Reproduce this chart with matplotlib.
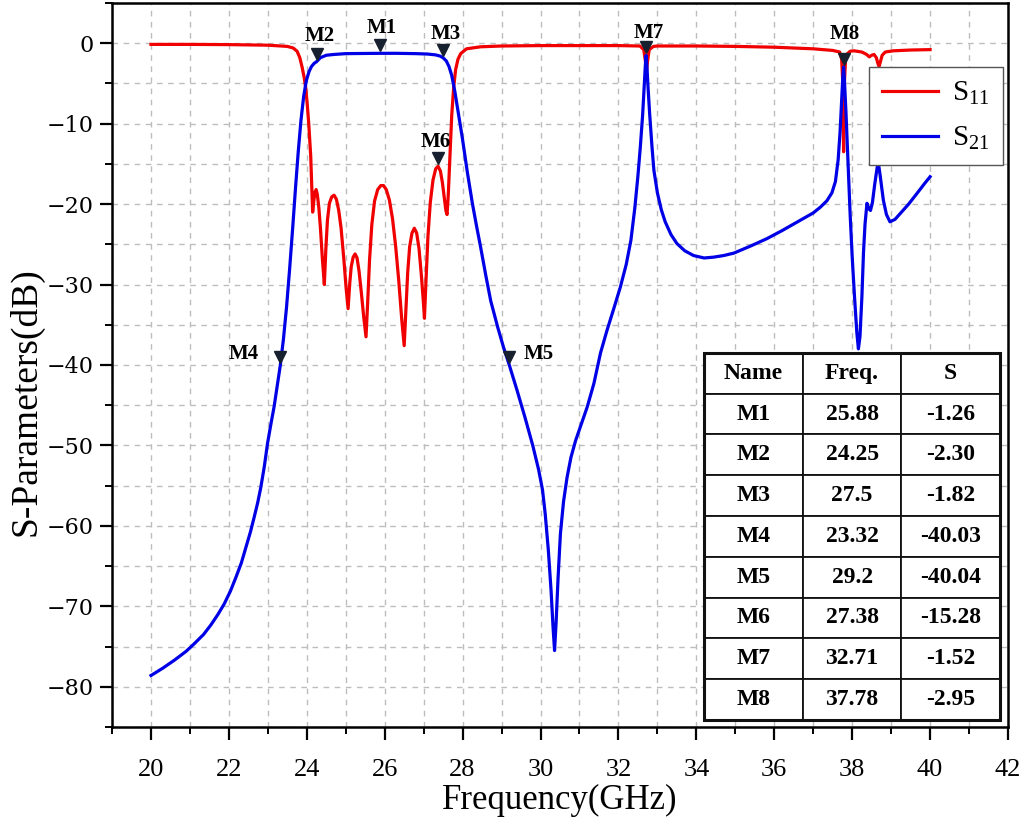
import matplotlib
matplotlib.use("Agg")
import matplotlib.pyplot as plt
from matplotlib.ticker import MultipleLocator
from matplotlib.transforms import offset_copy
from matplotlib.patches import Rectangle

plt.rcParams['font.family'] = 'serif'
plt.rcParams['font.serif'] = ['Liberation Serif', 'DejaVu Serif']
plt.rcParams['mathtext.fontset'] = 'custom'
plt.rcParams['mathtext.rm'] = 'Liberation Serif'
plt.rcParams['mathtext.it'] = 'Liberation Serif:italic'

# S11
s11_freq = [20.0, 21.0, 22.0, 23.0, 23.5, 23.65, 23.75, 23.82, 23.88, 23.93, 23.97, 24.01, 24.05,
            24.10, 24.13, 24.15, 24.18, 24.21, 24.24, 24.27, 24.31, 24.35, 24.40, 24.45, 24.49,
            24.53, 24.58, 24.64, 24.70, 24.76, 24.82, 24.88, 24.95, 25.01, 25.06, 25.10, 25.14,
            25.19, 25.24, 25.29, 25.34, 25.40, 25.46, 25.52, 25.56, 25.61, 25.67, 25.74, 25.82,
            25.90, 25.97, 26.04, 26.12, 26.20, 26.28, 26.36, 26.44, 26.50, 26.54, 26.59, 26.64,
            26.70, 26.76, 26.82, 26.88, 26.94, 26.99, 27.02, 27.06, 27.11, 27.17, 27.24, 27.31,
            27.37, 27.43, 27.48, 27.53, 27.57, 27.60, 27.63, 27.67, 27.72, 27.77, 27.82, 27.88,
            27.95, 28.10, 28.46, 29.0, 30.0, 31.0, 32.0, 32.55, 32.65, 32.70, 32.72, 32.74,
            32.79, 32.9, 33.0, 34.0, 35.0, 36.0, 37.0, 37.5, 37.68, 37.73, 37.76, 37.78, 37.80,
            37.83, 37.88, 37.95, 38.05, 38.25, 38.37, 38.44, 38.50, 38.56, 38.62, 38.66, 38.69,
            38.72, 38.77, 38.85, 39.05, 39.5, 40.0]
s11_db = [-0.15, -0.15, -0.18, -0.25, -0.4, -0.6, -1.0, -1.8, -3.0, -4.2, -5.5, -7.5, -10.0,
          -14.0, -18.0, -21.0, -19.6, -18.5, -18.2, -18.8, -20.5, -23.0, -26.8, -30.0, -25.5,
          -22.0, -19.9, -19.1, -18.9, -19.4, -20.8, -23.0, -26.8, -30.5, -33.0, -30.0, -27.8,
          -26.6, -26.2, -26.7, -28.3, -31.0, -34.0, -36.5, -32.5, -27.0, -22.5, -19.6, -18.2,
          -17.7, -17.7, -18.2, -19.5, -21.8, -25.2, -29.5, -34.5, -37.6, -33.5, -28.5, -25.3,
          -23.6, -23.0, -23.6, -25.5, -28.8, -32.0, -34.2, -29.5, -24.0, -19.8, -17.0, -15.6,
          -15.3, -15.9, -17.3, -19.3, -20.8, -21.3, -19.0, -14.5, -9.0, -5.5, -3.3, -2.0,
          -1.3, -0.7, -0.45, -0.35, -0.3, -0.3, -0.3, -0.35, -0.8, -2.5, -3.5, -2.5,
          -0.8, -0.4, -0.35, -0.35, -0.4, -0.5, -0.7, -0.9, -1.1, -2.0, -5.0, -13.5, -5.0,
          -2.0, -1.3, -1.0, -0.95, -1.1, -1.4, -1.7, -1.5, -1.4, -1.8, -2.5, -2.9,
          -2.4, -1.5, -1.1, -0.95, -0.85, -0.8]

# S21
s21_freq = [20.0, 20.3, 20.6, 20.9, 21.1, 21.35, 21.54, 21.72, 21.88, 22.04, 22.18, 22.32, 22.44,
            22.55, 22.65, 22.74, 22.82, 22.91, 22.99, 23.08, 23.16, 23.24, 23.32, 23.40, 23.48,
            23.56, 23.64, 23.71, 23.78, 23.85, 23.92, 23.99, 24.06, 24.12, 24.19, 24.25, 24.35,
            24.5, 24.7, 25.0, 25.5, 25.88, 26.3, 26.8, 27.1, 27.3, 27.42, 27.50, 27.58, 27.65,
            27.72, 27.80, 27.89, 27.99, 28.12, 28.25, 28.36, 28.46, 28.60, 28.72, 28.90, 29.05,
            29.20, 29.40, 29.60, 29.80, 29.95, 30.05, 30.12, 30.20, 30.27, 30.32, 30.36, 30.40,
            30.45, 30.51, 30.59, 30.68, 30.78, 30.90, 31.05, 31.20, 31.37, 31.54, 31.70, 31.88,
            32.05, 32.20, 32.32, 32.42, 32.50, 32.56, 32.62, 32.66, 32.69, 32.71, 32.73, 32.76,
            32.80, 32.86, 32.91, 33.0, 33.1, 33.2, 33.35, 33.5, 33.7, 33.93, 34.2, 34.44, 34.7,
            34.96, 35.4, 35.81, 36.2, 36.67, 37.0, 37.18, 37.35, 37.48, 37.57, 37.64, 37.69,
            37.73, 37.76, 37.78, 37.80, 37.84, 37.89, 37.95, 38.00, 38.06, 38.12, 38.16, 38.20,
            38.25, 38.29, 38.33, 38.38, 38.43, 38.47, 38.52, 38.58, 38.64, 38.67, 38.72, 38.80,
            38.88, 38.97, 39.1, 39.23, 39.45, 39.66, 39.85, 40.0]
s21_db = [-78.6, -77.7, -76.7, -75.6, -74.7, -73.5, -72.3, -71.0, -69.7, -68.1, -66.4, -64.6, -62.6,
          -60.8, -58.9, -57.1, -55.2, -52.6, -49.8, -47.3, -45.2, -42.6, -40.03, -36.8, -32.8,
          -28.0, -22.8, -18.0, -13.5, -9.6, -6.6, -4.6, -3.5, -2.9, -2.5, -2.30, -1.8,
          -1.5, -1.4, -1.3, -1.27, -1.26, -1.26, -1.3, -1.35, -1.45, -1.6, -1.82, -2.2, -2.9,
          -4.0, -6.0, -8.7, -11.7, -16.0, -19.9, -22.8, -25.3, -29.0, -32.0, -35.3, -37.8,
          -40.04, -43.2, -46.5, -50.0, -53.0, -55.5, -58.5, -63.0, -68.0, -72.5, -75.5, -72.0,
          -66.5, -61.0, -57.0, -54.0, -51.5, -49.4, -47.3, -45.2, -42.3, -38.5, -35.8, -33.0,
          -30.3, -27.5, -24.5, -20.5, -16.5, -13.0, -9.0, -5.5, -2.8, -1.52, -2.8, -5.5,
          -8.7, -12.8, -15.8, -18.6, -20.7, -22.2, -23.8, -24.9, -25.8, -26.4, -26.7, -26.6, -26.4,
          -26.1, -25.2, -24.3, -23.3, -22.0, -21.1, -20.4, -19.6, -18.6, -17.2, -14.5, -11.0,
          -7.0, -4.2, -2.95, -4.5, -8.5, -14.5, -21.5, -26.5, -31.5, -36.0, -38.0, -36.5,
          -31.5, -26.1, -22.5, -19.9, -20.6, -20.8, -19.8, -17.5, -15.5, -14.8, -16.5, -19.5,
          -21.3, -22.2, -21.9, -21.2, -20.0, -18.7, -17.5, -16.6]

# marker table
marker_names = ['M1', 'M2', 'M3', 'M4', 'M5', 'M6', 'M7', 'M8']
marker_freq_txt = ['25.88', '24.25', '27.5', '23.32', '29.2', '27.38', '32.71', '37.78']
marker_s_txt = ['-1.26', '-2.30', '-1.82', '-40.03', '-40.04', '-15.28', '-1.52', '-2.95']

# label offsets in pixels (dx, dy) from the marked point
label_off = {'M1': (2, 25), 'M2': (3, 26), 'M3': (3, 24), 'M4': (-37, 11),
             'M5': (29, 11), 'M6': (-3, 24), 'M7': (3, 22), 'M8': (1, 33)}

fig = plt.figure(figsize=(10.25, 8.22), dpi=100)
ax = fig.add_axes([0.1093, 0.1156, 0.8741, 0.8808])

ax.plot(s11_freq, s11_db, color='#f00000', lw=2.3, label='S$_{11}$', zorder=3)
ax.plot(s21_freq, s21_db, color='#0000e6', lw=2.3, label='S$_{21}$', zorder=3)

ax.set_xlim(19, 42)
ax.set_ylim(-85, 5)
ax.xaxis.set_major_locator(MultipleLocator(2))
ax.xaxis.set_minor_locator(MultipleLocator(1))
ax.yaxis.set_major_locator(MultipleLocator(10))
ax.yaxis.set_minor_locator(MultipleLocator(5))
ax.set_axisbelow(True)
ax.grid(which='both', ls=(0, (4, 4)), color='#bdbdbd', lw=1.0)

for sp in ax.spines.values():
    sp.set_linewidth(1.8)
ax.tick_params(which='major', direction='out', length=9, width=1.6)
ax.tick_params(which='minor', direction='out', length=5, width=1.4)
ax.tick_params(axis='x', which='major', labelsize=19, pad=14)
ax.tick_params(axis='y', which='major', labelsize=16, pad=4)
for lab in ax.get_yticklabels():
    lab.set_family('DejaVu Serif')

ax.set_xlabel('Frequency(GHz)', fontsize=25, labelpad=2)
ax.set_ylabel('S-Parameters(dB)', fontsize=27)
ax.yaxis.set_label_coords(-0.076, 0.45)

# markers
for name, ft, st in zip(marker_names, marker_freq_txt, marker_s_txt):
    f, s = float(ft), float(st)
    tr = offset_copy(ax.transData, fig=fig, x=0, y=8 * 0.72, units='points')
    ax.plot([f], [s], marker='v', ms=9, color='#17202e', ls='none', transform=tr, zorder=6)
    dx, dy = label_off[name]
    ax.annotate(name, (f, s), xytext=(dx * 0.72, dy * 0.72), textcoords='offset points',
                ha='center', va='center', fontsize=15, fontweight='bold', zorder=6)

leg = ax.legend(loc='upper right', bbox_to_anchor=(0.9944, 0.9116), borderaxespad=0,
                fontsize=21, handlelength=1.9, labelspacing=0.6, borderpad=0.45,
                handletextpad=0.5, fancybox=False, framealpha=1, edgecolor='#555555')
leg.get_frame().set_linewidth(1.0)

rows = [[n, f, s] for n, f, s in zip(marker_names, marker_freq_txt, marker_s_txt)]
tb_box = [0.661, 0.0097, 0.330, 0.507]
table = ax.table(cellText=rows, colLabels=['Name', 'Freq.', 'S'], cellLoc='center',
                 bbox=tb_box, zorder=5)
table.auto_set_font_size(False)
for cell in table.get_celld().values():
    cell.set_linewidth(1.3)
    cell.set_edgecolor('#111111')
    cell.get_text().set_fontsize(17)
    cell.get_text().set_fontweight('bold')
ax.add_patch(Rectangle((tb_box[0], tb_box[1]), tb_box[2], tb_box[3], transform=ax.transAxes,
                       fill=False, lw=2.2, edgecolor='#111111', zorder=6))

fig.savefig('out.png', dpi=100)
